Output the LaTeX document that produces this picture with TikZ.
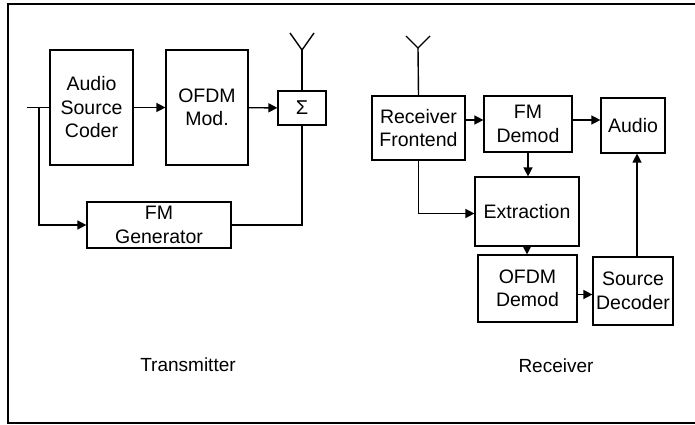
\documentclass[tikz,border=0pt]{standalone}
\usepackage{fontspec}
\setmainfont{Liberation Sans}
\usetikzlibrary{arrows.meta}
\begin{document}
\begin{tikzpicture}[x=1pt,y=-1pt,
  blk/.style={draw,line width=1.2pt,inner sep=0pt,align=center,
    font=\fontsize{19.5}{23.5}\selectfont},
  conn/.style={line width=1.4pt},
  arr/.style={conn,-{Triangle[length=9pt,width=9pt]}},
  lbl/.style={font=\fontsize{19}{23}\selectfont,inner sep=0pt}]
\useasboundingbox (0,0) rectangle (695,425);
% frame
\draw[line width=1.1pt] (695,4) -- (8,4) -- (8,423) -- (695,423);
% transmitter
\node[blk,minimum width=83pt,minimum height=115pt] (asc) at (91.5,107.5) {Audio\\Source\\Coder};
\node[blk,minimum width=82pt,minimum height=115pt] (ofdm) at (207,107.5) {OFDM\\Mod.};
\node[blk,minimum width=48pt,minimum height=34pt,font=\fontsize{20}{24}\selectfont] (sig) at (302,108) {Σ};
\node[blk,minimum width=144pt,minimum height=46pt] (fmg) at (159,225) {FM\\Generator};
\coordinate (in) at (27,107.5);
\coordinate (br) at (39,107.5);
\coordinate (tant) at (302,50);
\coordinate (tantl) at (290,33);
\coordinate (tantr) at (314,33);
\draw[conn] (in) -- (asc.west);
\draw[arr] (br) |- (fmg.west);
\draw[arr] (asc) -- (ofdm);
\draw[arr] (ofdm) -- (sig);
\draw[conn] (fmg.east) -| (sig.south);
\draw[conn] (sig.north) -- (tant);
\draw[conn] (tantl) -- (tant) -- (tantr);
\node[lbl] (tx) at (188,365) {Transmitter};
% receiver
\node[blk,minimum width=93pt,minimum height=64pt] (rfe) at (418.5,128) {Receiver\\Frontend};
\node[blk,minimum width=88pt,minimum height=56pt] (fmd) at (528,124) {FM\\Demod};
\node[blk,minimum width=64pt,minimum height=55pt] (aud) at (633,125.5) {Audio};
\node[blk,minimum width=104pt,minimum height=69pt] (ext) at (527,211.5) {Extraction};
\node[blk,minimum width=99pt,minimum height=67pt] (ofd) at (527.5,288.5) {OFDM\\Demod};
\node[blk,minimum width=80pt,minimum height=68pt] (sdc) at (633,291) {Source\\Decoder};
\coordinate (rant) at (418,48);
\coordinate (rantl) at (406,36);
\coordinate (rantr) at (430,36);
\draw[conn] (rfe.north) -- (rant);
\draw[conn] (rantl) -- (rant) -- (rantr);
\draw[arr] ([yshift=4pt]fmd.west -| rfe.east) -- ([yshift=4pt]fmd.west);
\draw[arr] ([yshift=4pt]fmd.east) -- ([yshift=4pt]fmd.east -| aud.west);
\draw[arr] (fmd.south) -- (fmd.south |- ext.north);
\draw[arr] (rfe.south) |- ([yshift=-2pt]ext.west);
\draw[arr] (ext.south) -- (ext.south |- ofd.north);
\draw[arr] ([yshift=-6pt]ofd.east) -- ([yshift=-6pt]ofd.east -| sdc.west);
\draw[arr] ([xshift=4pt]sdc.north) -- ([xshift=4pt]sdc.north |- aud.south);
\node[lbl] (rx) at (556,366) {Receiver};
\end{tikzpicture}
\end{document}
